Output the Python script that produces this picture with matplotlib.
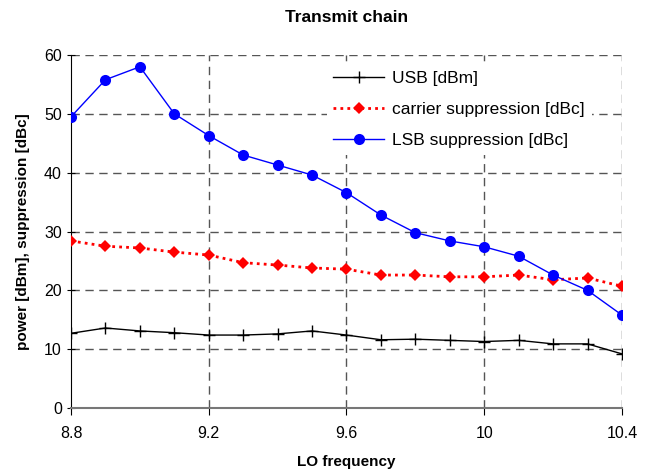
import matplotlib.pyplot as plt
import numpy as np

plt.rcParams['font.family'] = ['Liberation Sans', 'DejaVu Sans']

# LO frequency points
freq = [8.8, 8.9, 9.0, 9.1, 9.2, 9.3, 9.4, 9.5, 9.6, 9.7, 9.8, 9.9, 10.0, 10.1, 10.2, 10.3, 10.4]

usb = [12.7, 13.6, 13.1, 12.8, 12.4, 12.4, 12.6, 13.1, 12.4, 11.6, 11.7, 11.5, 11.3, 11.5, 10.9, 10.9, 9.2]
carrier = [28.4, 27.5, 27.2, 26.5, 26.0, 24.7, 24.3, 23.8, 23.6, 22.6, 22.6, 22.3, 22.3, 22.6, 21.8, 22.1, 20.7]
lsb = [49.5, 55.8, 58.0, 50.0, 46.3, 43.0, 41.3, 39.6, 36.6, 32.8, 29.8, 28.4, 27.4, 25.8, 22.6, 20.0, 15.8]

xticks = [8.8, 9.2, 9.6, 10, 10.4]
xtick_labels = ['8.8', '9.2', '9.6', '10', '10.4']
yticks = [0, 10, 20, 30, 40, 50, 60]

fig = plt.figure(figsize=(6.54, 4.73), dpi=100)
ax = fig.add_axes([0.1086, 0.1374, 0.8424, 0.7463])

# dashed grid
for y in yticks[1:]:
    ax.axhline(y, color='#555555', lw=1, ls=(0, (6, 4)), zorder=1)
for x in xticks[1:]:
    ax.axvline(x, color='#555555', lw=1, ls=(0, (6, 4)), zorder=1)

ax.plot(freq, usb, color='black', lw=1, marker='+', ms=9, mew=1, label='USB [dBm]', zorder=3)
ax.plot(freq, carrier, color='red', lw=2, ls=(0, (1, 1.5)), marker='D', ms=6.5, mew=0,
        label='carrier suppression [dBc]', zorder=3)
ax.plot(freq, lsb, color='blue', lw=1, marker='o', ms=8, mew=0, label='LSB suppression [dBc]', zorder=4)

ax.set_xlim(8.8, 10.4)
ax.set_ylim(0, 60)
ax.set_xticks(xticks)
ax.set_xticklabels(xtick_labels)
ax.set_yticks(yticks)
ax.tick_params(axis='both', labelsize=11.5, direction='inout', length=6, color='black')
ax.tick_params(axis='x', direction='out', length=5, pad=8)

for s in ['top', 'right']:
    ax.spines[s].set_visible(False)
ax.spines['bottom'].set_color('#777777')
ax.spines['bottom'].set_linewidth(1.5)
ax.spines['left'].set_color('black')

ax.set_title('Transmit chain', fontsize=12.5, fontweight='bold', pad=24)
ax.set_xlabel('LO frequency', fontsize=11, fontweight='bold', labelpad=10)
ax.set_ylabel('power [dBm], suppression [dBc]', fontsize=11, fontweight='bold', labelpad=10)

leg = ax.legend(loc='upper left', bbox_to_anchor=(0.448, 1.0), fontsize=12.5, frameon=True,
                facecolor='white', edgecolor='none', framealpha=1, fancybox=False,
                handlelength=2.9, labelspacing=0.92, handletextpad=0.5, borderpad=0.4)
leg.set_zorder(5)

fig.savefig('out.png', dpi=100)
